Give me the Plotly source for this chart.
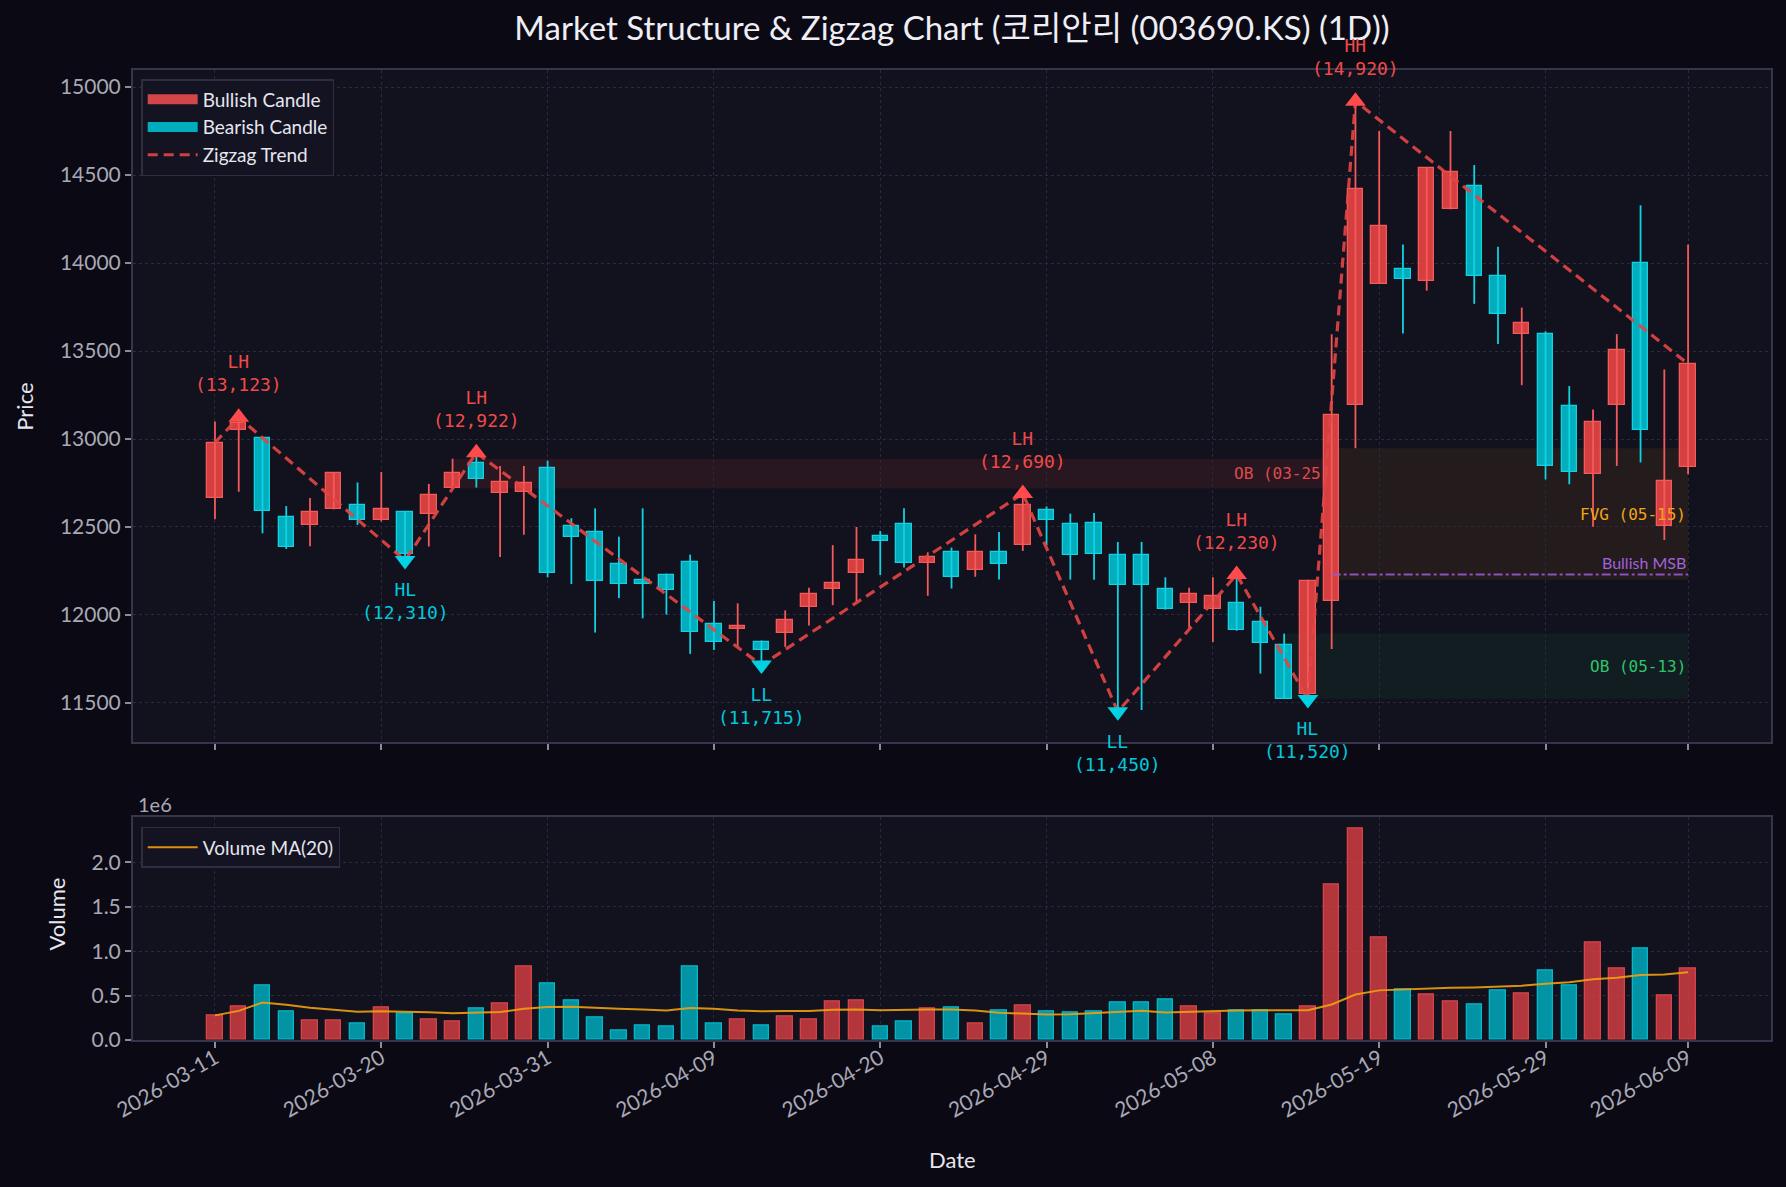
import plotly.graph_objects as go
import pandas as pd

# ---------------- data ----------------
dates = ["2026-03-11","2026-03-12","2026-03-13","2026-03-16","2026-03-17","2026-03-18","2026-03-19","2026-03-20",
         "2026-03-23","2026-03-24","2026-03-25","2026-03-26","2026-03-27","2026-03-30","2026-03-31",
         "2026-04-01","2026-04-02","2026-04-03","2026-04-06","2026-04-07","2026-04-08","2026-04-09",
         "2026-04-10","2026-04-13","2026-04-14","2026-04-15","2026-04-16","2026-04-17","2026-04-20",
         "2026-04-21","2026-04-22","2026-04-23","2026-04-24","2026-04-27","2026-04-28","2026-04-29",
         "2026-04-30","2026-05-01","2026-05-04","2026-05-05","2026-05-06","2026-05-07","2026-05-08",
         "2026-05-11","2026-05-12","2026-05-13","2026-05-14","2026-05-15","2026-05-18","2026-05-19",
         "2026-05-20","2026-05-21","2026-05-22","2026-05-26","2026-05-27","2026-05-28","2026-05-29",
         "2026-06-01","2026-06-02","2026-06-04","2026-06-05","2026-06-08","2026-06-09"]

opens  = [12665,13050,13006,12558,12509,12603,12625,12539,12584,12571,12724,12866,12694,12697,12834,
          12504,12469,12289,12201,12227,12303,11948,11919,11846,11895,12048,12147,12236,12450,12517,
          12297,12356,12257,12356,12396,12598,12517,12520,12343,12343,12147,12066,12034,12069,11958,
          11827,11551,12080,13196,13881,13967,13897,14308,14436,13926,13596,13594,13188,12799,13196,
          14002,12507,12839]
highs  = [13100,13123,13010,12619,12665,12812,12753,12812,12590,12745,12888,12922,12847,12847,12877,
          12550,12606,12445,12606,12235,12343,12080,12066,11855,12026,12155,12397,12500,12477,12606,
          12356,12383,12458,12472,12690,12617,12576,12580,12415,12415,12214,12155,12214,12230,12047,
          11894,12200,13596,14920,14750,14106,14545,14750,14557,14093,13747,13612,13301,13167,13596,
          14329,13395,14106]
lows   = [12544,12700,12464,12375,12391,12600,12512,12531,12310,12389,12719,12724,12329,12456,12214,
          12176,11900,12096,11981,12002,11779,11801,11819,11715,11819,11940,12056,12074,12227,12270,
          12109,12150,12217,12201,12364,12396,12201,12200,11450,11460,12030,11921,11846,11910,11667,
          11524,11520,11806,12947,13881,13599,13843,14305,13768,13540,13306,12770,12743,12501,12847,
          12866,12426,12799]
closes = [12979,13090,12592,12388,12584,12807,12539,12603,12345,12684,12804,12775,12753,12751,12236,
          12445,12195,12174,12176,12142,11905,11846,11940,11801,11972,12120,12179,12311,12423,12297,
          12329,12214,12356,12289,12625,12539,12343,12345,12168,12168,12034,12120,12107,11913,11838,
          11524,12195,13135,14423,14208,13908,14541,14520,13924,13709,13658,12845,12815,13097,13507,
          13049,12764,13427]
volumes = [277000,378000,613000,321000,221000,221000,187000,366000,299000,232000,209000,355000,411000,
           826000,635000,445000,250000,108000,161000,150000,826000,187000,232000,161000,265000,232000,
           434000,445000,150000,209000,355000,366000,187000,333000,389000,321000,310000,321000,422000,
           422000,456000,377000,299000,333000,333000,288000,377000,1745000,2385000,1151000,568000,
           512000,434000,400000,557000,523000,781000,613000,1095000,804000,1028000,501000,804000]

# pivots
pivot_idx    = [1, 8, 11, 23, 34, 38, 43, 46, 48]
pivot_label  = ["LH", "HL", "LH", "LL", "LH", "LL", "LH", "HL", "HH"]
pivot_price  = [13123, 12310, 12922, 11715, 12690, 11450, 12230, 11520, 14920]
pivot_is_high = [True, False, True, False, True, False, True, False, True]

# zones
zone_names = ["OB (03-25)", "FVG (05-15)", "OB (05-13)"]
zone_start = [10, 47, 45]
zone_end   = [47, 62, 62]
zone_low   = [12719, 12200, 11524]
zone_high  = [12888, 12947, 11894]
msb_label = "Bullish MSB"
msb_start, msb_end, msb_level = 47, 62, 12230

price_ticks = [11500, 12000, 12500, 13000, 13500, 14000, 14500, 15000]
vol_ticks = [0, 500000, 1000000, 1500000, 2000000]
vol_tick_text = ["0.0", "0.5", "1.0", "1.5", "2.0"]
date_tick_idx = [0, 7, 14, 21, 28, 35, 42, 49, 56, 62]

title_text = "Market Structure & Zigzag Chart (코리안리 (003690.KS) (1D))"

# ---------------- styling ----------------
FIG_BG = "#0b0a14"
PLOT_BG = "#12111e"
GRID = "#2b2a3c"
AXLINE = "#36354b"
TICKC = "#a9a8b6"
TXT = "#e6e6ee"
MAIN_FONT = "Lato, 'Noto Sans CJK KR', sans-serif"
MONO = "'DejaVu Sans Mono', monospace"

BULL_FILL = "rgba(240,70,70,0.88)"
BULL_EDGE = "#f45a5a"
BEAR_FILL = "rgba(0,196,212,0.88)"
BEAR_EDGE = "#10d2e2"
VBULL_FILL = "rgba(220,64,68,0.80)"
VBULL_EDGE = "#d64448"
VBEAR_FILL = "rgba(0,170,188,0.85)"
VBEAR_EDGE = "#00b8ca"
ZZ_COLOR = "rgba(225,68,68,0.92)"
HIGH_MK = "#ff4b4b"
LOW_MK = "#00d2e4"

n = len(dates)
xs = list(range(n))
bull = [closes[i] >= opens[i] for i in xs]

fig = go.Figure()

# wicks
for is_bull, col in [(True, BULL_EDGE), (False, BEAR_EDGE)]:
    wx, wy = [], []
    for i in xs:
        if bull[i] == is_bull:
            wx += [i, i, None]
            wy += [lows[i], highs[i], None]
    fig.add_trace(go.Scatter(x=wx, y=wy, mode="lines", line=dict(color=col, width=1.8),
                             showlegend=False, hoverinfo="skip", xaxis="x", yaxis="y"))

# bodies
for is_bull, fillc, edgec in [(True, BULL_FILL, BULL_EDGE), (False, BEAR_FILL, BEAR_EDGE)]:
    bx = [i for i in xs if bull[i] == is_bull]
    base = [min(opens[i], closes[i]) for i in bx]
    hgt = [max(abs(closes[i] - opens[i]), 8) for i in bx]
    fig.add_trace(go.Bar(x=bx, y=hgt, base=base, width=0.65,
                         marker=dict(color=fillc, line=dict(color=edgec, width=1.3)),
                         showlegend=False, hoverinfo="skip", xaxis="x", yaxis="y"))

# legend dummies
fig.add_trace(go.Scatter(x=[None], y=[None], mode="lines", name="Bullish Candle",
                         line=dict(color="#d24549", width=12), legend="legend", xaxis="x", yaxis="y"))
fig.add_trace(go.Scatter(x=[None], y=[None], mode="lines", name="Bearish Candle",
                         line=dict(color="#00adbd", width=12), legend="legend", xaxis="x", yaxis="y"))

# zigzag
zz_x = [0] + pivot_idx + [n - 1]
zz_y = [closes[0]] + pivot_price + [closes[-1]]
fig.add_trace(go.Scatter(x=zz_x, y=zz_y, mode="lines", name="Zigzag Trend",
                         line=dict(color=ZZ_COLOR, width=3.2, dash="10px,6px"),
                         legend="legend", xaxis="x", yaxis="y", hoverinfo="skip"))

# pivot markers
hx = [pivot_idx[k] for k in range(len(pivot_idx)) if pivot_is_high[k]]
hy = [pivot_price[k] for k in range(len(pivot_idx)) if pivot_is_high[k]]
lx = [pivot_idx[k] for k in range(len(pivot_idx)) if not pivot_is_high[k]]
ly = [pivot_price[k] for k in range(len(pivot_idx)) if not pivot_is_high[k]]
fig.add_trace(go.Scatter(x=hx, y=hy, mode="markers", marker=dict(symbol="triangle-up", size=18, color=HIGH_MK),
                         showlegend=False, xaxis="x", yaxis="y"))
fig.add_trace(go.Scatter(x=lx, y=ly, mode="markers", marker=dict(symbol="triangle-down", size=18, color=LOW_MK),
                         showlegend=False, xaxis="x", yaxis="y"))

# volume bars
for is_bull, fillc, edgec in [(True, VBULL_FILL, VBULL_EDGE), (False, VBEAR_FILL, VBEAR_EDGE)]:
    bx = [i for i in xs if bull[i] == is_bull]
    fig.add_trace(go.Bar(x=bx, y=[volumes[i] for i in bx], width=0.65,
                         marker=dict(color=fillc, line=dict(color=edgec, width=1.3)),
                         showlegend=False, hoverinfo="skip", xaxis="x2", yaxis="y2"))

vol_ma = pd.Series(volumes).rolling(20, min_periods=1).mean().tolist()
fig.add_trace(go.Scatter(x=xs, y=vol_ma, mode="lines", name="Volume MA(20)",
                         line=dict(color="rgba(240,160,16,0.9)", width=2),
                         legend="legend2", xaxis="x2", yaxis="y2"))

# zones
zone_fill = ["rgba(239,68,68,0.10)", "rgba(245,158,11,0.08)", "rgba(34,197,94,0.07)"]
zone_txt = ["#e04a4a", "#f2a31a", "#2ec46a"]
shapes = []
annotations = []
for k in range(len(zone_names)):
    shapes.append(dict(type="rect", xref="x", yref="y", x0=zone_start[k], x1=zone_end[k],
                       y0=zone_low[k], y1=zone_high[k], fillcolor=zone_fill[k], line=dict(width=0),
                       layer="below"))
    annotations.append(dict(x=zone_end[k], y=(zone_low[k] + zone_high[k]) / 2, xref="x", yref="y",
                            text=zone_names[k], showarrow=False, xanchor="right", yanchor="middle",
                            font=dict(family=MONO, size=16, color=zone_txt[k])))
shapes.append(dict(type="line", xref="x", yref="y", x0=msb_start, x1=msb_end, y0=msb_level, y1=msb_level,
                   line=dict(color="rgba(150,90,210,0.9)", width=2, dash="dashdot")))
annotations.append(dict(x=msb_end, y=msb_level, xref="x", yref="y", text=msb_label, showarrow=False,
                        xanchor="right", yanchor="bottom", yshift=1,
                        font=dict(family=MAIN_FONT, size=16, color="#a064de")))

# pivot labels
for k in range(len(pivot_idx)):
    txt = f"{pivot_label[k]}<br>({pivot_price[k]:,})"
    if pivot_is_high[k]:
        annotations.append(dict(x=pivot_idx[k], y=pivot_price[k], xref="x", yref="y", text=txt,
                                showarrow=False, yanchor="bottom", yshift=20,
                                font=dict(family=MONO, size=18, color="#f04a4a")))
    else:
        annotations.append(dict(x=pivot_idx[k], y=pivot_price[k], xref="x", yref="y", text=txt,
                                showarrow=False, yanchor="top", yshift=-17,
                                font=dict(family=MONO, size=18, color="#00c8da")))

# axis titles and offset text
annotations.append(dict(x=-0.0659, y=0.653, xref="paper", yref="paper", text="Price", textangle=-90,
                        xanchor="center", yanchor="middle",
                        showarrow=False, font=dict(family=MAIN_FONT, size=22, color=TXT)))
annotations.append(dict(x=-0.0464, y=0.1304, xref="paper", yref="paper", text="Volume", textangle=-90,
                        xanchor="center", yanchor="middle",
                        showarrow=False, font=dict(family=MAIN_FONT, size=22, color=TXT)))
annotations.append(dict(x=0.5, y=-0.1232, xref="paper", yref="paper", text="Date",
                        xanchor="center", yanchor="middle",
                        showarrow=False, font=dict(family=MAIN_FONT, size=22, color=TXT)))
annotations.append(dict(x=0.002, y=0.2433, xref="paper", yref="paper", text="1e6", xanchor="left",
                        yanchor="middle", showarrow=False, font=dict(family=MAIN_FONT, size=20, color=TICKC)))

axis_common = dict(showgrid=True, gridcolor=GRID, griddash="dot", gridwidth=1, showline=True, mirror=True,
                   linecolor=AXLINE, linewidth=2, ticks="outside", ticklen=6, tickwidth=1.5, tickcolor="#8c8b9c",
                   zeroline=False)
tick_font = dict(family=MAIN_FONT, size=21, color=TICKC)

fig.update_layout(
    width=1786, height=1187,
    margin=dict(l=133, r=15, t=70, b=147),
    paper_bgcolor=FIG_BG, plot_bgcolor=PLOT_BG,
    barmode="overlay", bargap=0,
    font=dict(family=MAIN_FONT, color=TXT),
    title=dict(text=title_text, x=0.5, xref="paper", y=1 - 28.5 / 1187, yref="container",
               yanchor="middle", xanchor="center", font=dict(family=MAIN_FONT, size=33, color="#eeeef4")),
    xaxis=dict(domain=[0, 1], anchor="y", range=[-3.45, 65.49], tickvals=date_tick_idx,
               showticklabels=False, matches="x2", **axis_common),
    yaxis=dict(domain=[0.3072, 1], anchor="x", range=[11278, 15097], tickvals=price_ticks,
               tickformat="d", tickfont=tick_font, **axis_common),
    xaxis2=dict(domain=[0, 1], anchor="y2", range=[-3.45, 65.49], tickvals=date_tick_idx,
                ticktext=[dates[i] for i in date_tick_idx], tickangle=-30, tickfont=tick_font,
                ticklabelstandoff=-10, **axis_common),
    yaxis2=dict(domain=[0, 0.2304], anchor="x2", range=[0, 2515000], tickvals=vol_ticks,
                ticktext=vol_tick_text, tickfont=tick_font, **axis_common),
    legend=dict(x=0.005, y=0.9907, xanchor="left", yanchor="top", bgcolor="#141322",
                bordercolor="#2e2d42", borderwidth=1.5, font=dict(family=MAIN_FONT, size=19, color=TXT),
                itemwidth=50, tracegroupgap=0),
    legend2=dict(x=0.005, y=0.2196, xanchor="left", yanchor="top", bgcolor="#141322",
                 bordercolor="#2e2d42", borderwidth=1.5, font=dict(family=MAIN_FONT, size=19, color=TXT),
                 itemwidth=50),
    shapes=shapes, annotations=annotations,
)

fig.write_html("out.html")
